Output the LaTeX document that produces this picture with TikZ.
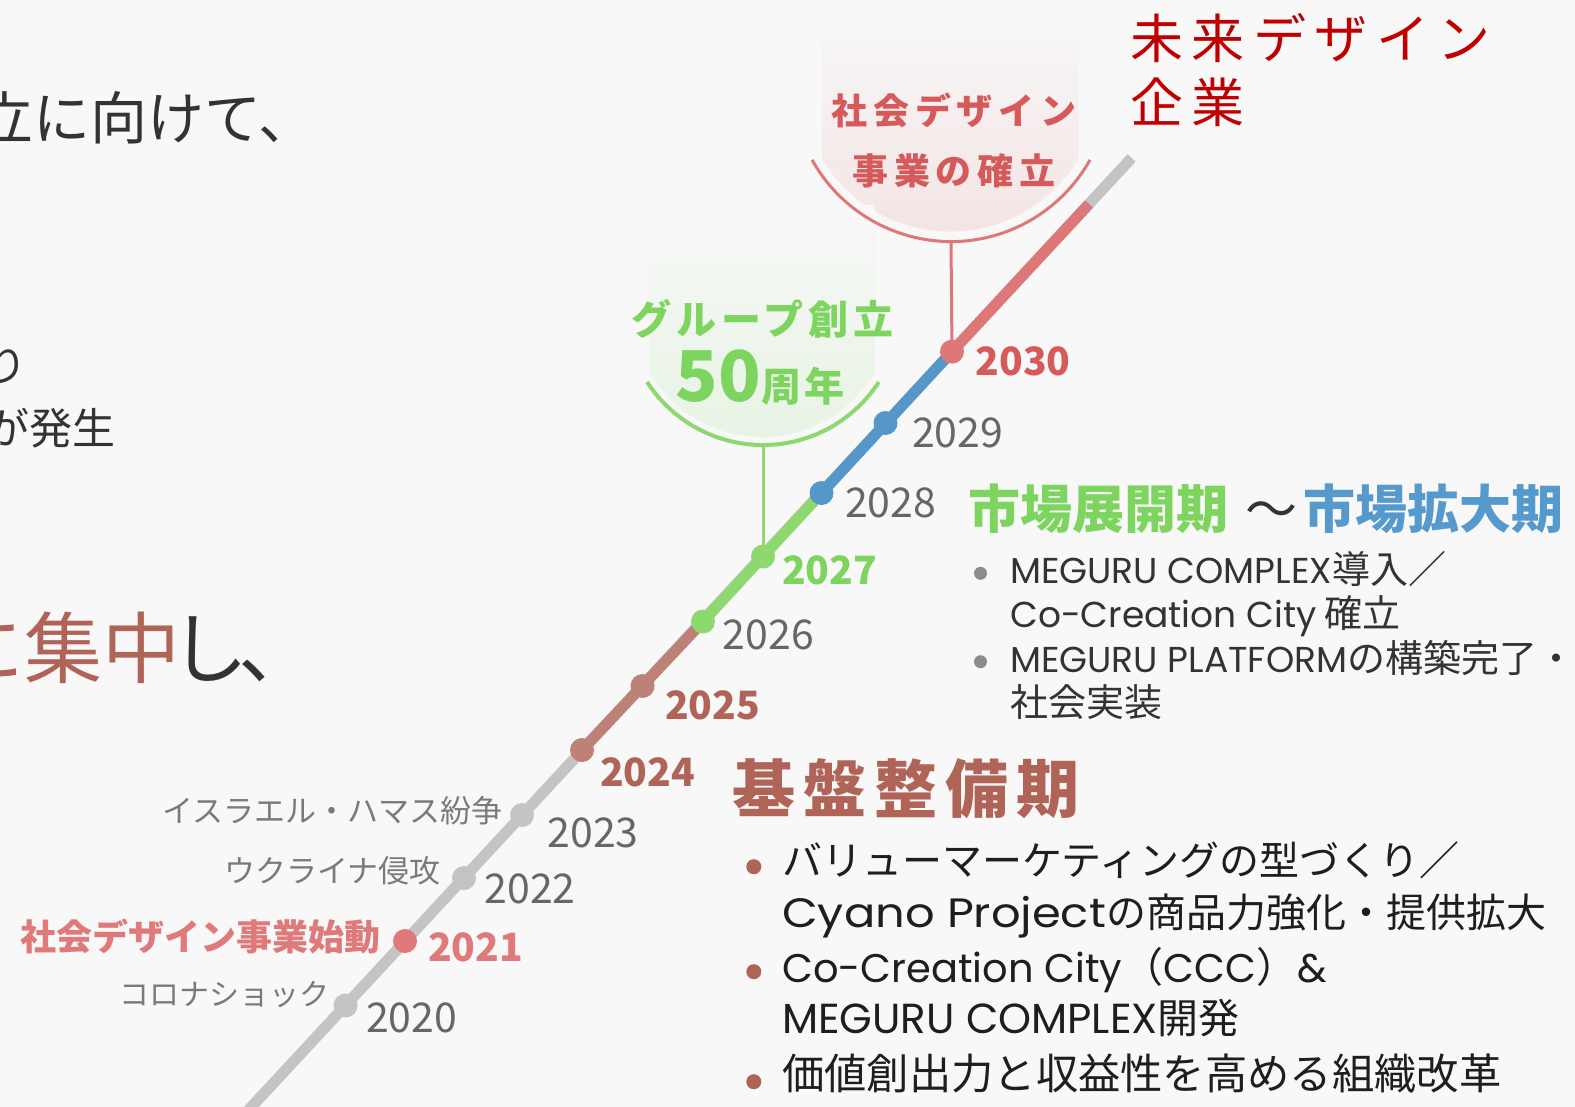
\documentclass[tikz,border=0pt]{standalone}
\usepackage{fontspec}
\setmainfont{Noto Sans CJK JP}
\newfontfamily\lat{Poppins}
\usepackage{tikz}
\usetikzlibrary{positioning}
\definecolor{bg}{HTML}{F8F8F8}
\definecolor{railgray}{HTML}{C4C4C4}
\definecolor{brownseg}{HTML}{BE8177}
\definecolor{greenseg}{HTML}{8DD86F}
\definecolor{blueseg}{HTML}{5597C9}
\definecolor{redseg}{HTML}{DE7878}
\definecolor{browntxt}{HTML}{B06458}
\definecolor{greentxt}{HTML}{7DD45F}
\definecolor{bluetxt}{HTML}{5599CD}
\definecolor{redtxt}{HTML}{D65A5A}
\definecolor{pinktxt}{HTML}{E07A7A}
\definecolor{darkred}{HTML}{C00000}
\definecolor{yeargray}{HTML}{666666}
\definecolor{eventgray}{HTML}{7A7A7A}
\definecolor{ink}{HTML}{333333}
\definecolor{blackink}{HTML}{1E1E1E}
\definecolor{redcupfill}{HTML}{F3E3E3}
\definecolor{greencupfill}{HTML}{E6F3E2}
\newcommand{\fsz}[1]{\fontsize{#1}{#1}\selectfont}
\tikzstyle{rail} = [line width=11pt]
\tikzstyle{yeardot} = [circle, inner sep=0pt, minimum size=24pt]
\tikzstyle{year} = [anchor=west, inner sep=0pt, text=yeargray, font=\fsz{41}]
\tikzstyle{keyyear} = [anchor=west, inner sep=0pt, font=\fsz{39}\bfseries]
\tikzstyle{event} = [anchor=east, inner sep=0pt, text=eventgray, font=\fsz{30}]
\tikzstyle{bullet} = [circle, inner sep=0pt]
\tikzstyle{item} = [anchor=base west, inner sep=0pt]
\tikzstyle{lead} = [anchor=west, inner sep=0pt, text=ink]
\begin{document}
\begin{tikzpicture}[x=1pt, y=-1pt]
        \useasboundingbox (0,0) rectangle (1575,1107);
        \fill[bg] (0,0) rectangle (1575,1107);
        % cups
        \shade[top color=bg, bottom color=redcupfill] (822,0) -- (822,158.4) arc[start angle=149.4, end angle=30.6, radius=149] -- (1079,0) -- cycle;
        \shade[top color=bg, bottom color=greencupfill] (649,205) -- (649,371.3) arc[start angle=150.4, end angle=29.6, radius=130] -- (875,205) -- cycle;
        \draw[redseg, line width=3pt] (812.1,159.9) arc[start angle=150.9, end angle=29.1, radius=159];
        \draw[greenseg, line width=4pt] (647.1,382) arc[start angle=147.1, end angle=32.9, radius=138];
        \coordinate (redcupbase) at (951,241.6);
        \coordinate (greencupbase) at (763,445);
        % timeline
        \coordinate (railfoot) at (243.9,1115);
        \coordinate (railtop) at (1131.6,158);
        \coordinate (railred) at (1089,204);
        \coordinate (y2020) at (345.5,1005.5);
        \coordinate (y2021) at (405,941);
        \coordinate (y2022) at (464,878);
        \coordinate (y2023) at (522,815);
        \coordinate (y2024) at (582,750);
        \coordinate (y2025) at (642.5,686);
        \coordinate (y2026) at (703,621.5);
        \coordinate (y2027) at (763,556.5);
        \coordinate (y2028) at (821.5,493);
        \coordinate (y2029) at (885.5,423);
        \coordinate (y2030) at (952,351.6);
        \draw[redseg, line width=3pt] (redcupbase) -- (y2030);
        \draw[greenseg, line width=3pt] (greencupbase) -- (y2027);
        \draw[rail, railgray] (railfoot) -- (railtop);
        \draw[rail, brownseg] (y2024) -- (y2026);
        \draw[rail, greenseg] (y2026) -- (y2028);
        \draw[rail, blueseg] (y2028) -- (y2030);
        \draw[rail, redseg] (y2030) -- (railred);
        \node[yeardot, fill=railgray] (d2020) at (y2020) {};
        \node[yeardot, fill=pinktxt] (d2021) at (y2021) {};
        \node[yeardot, fill=railgray] (d2022) at (y2022) {};
        \node[yeardot, fill=railgray] (d2023) at (y2023) {};
        \node[yeardot, fill=brownseg] (d2024) at (y2024) {};
        \node[yeardot, fill=brownseg] (d2025) at (y2025) {};
        \node[yeardot, fill=greenseg] (d2026) at (y2026) {};
        \node[yeardot, fill=greenseg] (d2027) at (y2027) {};
        \node[yeardot, fill=blueseg] (d2028) at (y2028) {};
        \node[yeardot, fill=blueseg] (d2029) at (y2029) {};
        \node[yeardot, fill=redseg] (d2030) at (y2030) {};
        % years
        \node[year] (l2020) at (366,1018.3) {2020};
        \node[keyyear, text=pinktxt] (l2021) at (428,947.5) {2021};
        \node[year] (l2022) at (484.4,889.2) {2022};
        \node[year] (l2023) at (547.3,832.5) {2023};
        \node[keyyear, text=browntxt] (l2024) at (600,772.5) {2024};
        \node[keyyear, text=browntxt] (l2025) at (665,705) {2025};
        \node[year] (l2026) at (722.7,634.7) {2026};
        \node[keyyear, text=greentxt] (l2027) at (782,570) {2027};
        \node[year] (l2028) at (845,502.5) {2028};
        \node[year] (l2029) at (912,433) {2029};
        \node[keyyear, text=redtxt] (l2030) at (975.5,361.7) {2030};
        % events
        \node[event] (e2020) at (330,995) {コロナショック};
        \node[event, text=pinktxt, font=\fsz{36}\bfseries] (e2021) at (381,936.7) {社会デザイン事業始動};
        \node[event, font=\fsz{31}] (e2022) at (441,870.8) {ウクライナ侵攻};
        \node[event, font=\fsz{31}] (e2023) at (503,810.8) {イスラエル・ハマス紛争};
        % cups text
        \node[inner sep=0pt, text=redtxt, font=\fsz{36}\bfseries\addfontfeatures{LetterSpace=16}] (redcup1) at (954,110.8) {社会デザイン};
        \node[inner sep=0pt, text=redtxt, font=\fsz{36}\bfseries\addfontfeatures{LetterSpace=16}] (redcup2) at (954,170.8) {事業の確立};
        \node[inner sep=0pt, text=greentxt, font=\fsz{40}\bfseries\addfontfeatures{LetterSpace=12}] (greencup1) at (762.4,319) {グループ創立};
        \node[anchor=base, inner sep=0pt, text=greentxt, font=\fsz{40}\bfseries] (greencup2) at (760,402) {{\fsz{70}50}{\addfontfeatures{LetterSpace=8}周年}};
        % goal
        \node[lead, text=darkred, font=\fsz{53}\addfontfeatures{LetterSpace=16}] (goal1) at (1130,38.3) {未来デザイン};
        \node[lead, text=darkred, font=\fsz{53}\addfontfeatures{LetterSpace=16}] (goal2) at (1130,102.3) {企業};
        % left text
        \node[lead, font=\fsz{57}] (left1) at (-23.5,118) {立に向けて、};
        \node[lead, anchor=east, font=\fsz{43}] (left2) at (28,366) {り};
        \node[lead, anchor=east, font=\fsz{43}] (left3) at (116,428) {が発生};
        \node[lead, font=\fsz{78}] (left4) at (-53.5,648) {{\color{browntxt}に集中}\hspace{-10pt}し\hspace{-10pt}、};
        % market phase
        \node[lead, font=\fsz{52}] (market) at (968,509) {{\color{greentxt}\bfseries 市場展開期}\hspace{17pt}{\color{ink}～}\hspace{6pt}{\color{bluetxt}\bfseries 市場拡大期}};
        \node[bullet, fill=gray!90, minimum size=13pt] (gb1) at (980.5,573.3) {};
        \node[bullet, fill=gray!90, minimum size=13pt] (gb2) at (980.5,661.7) {};
        \node[item, text=ink, font=\fsz{38}] (g1) at (1010,583) {{\lat\fsz{36}MEGURU COMPLEX}導入／};
        \node[item, text=ink, font=\fsz{38}] (g2) at (1010,627) {{\lat\fsz{36}Co-Creation City} 確立};
        \node[item, text=ink, font=\fsz{38}] (g3) at (1010,672) {{\lat\fsz{36}MEGURU PLATFORM}の構築完了・};
        \node[item, text=ink, font=\fsz{38}] (g4) at (1010,716) {社会実装};
        % foundation phase
        \node[lead, text=browntxt, font=\fsz{63}\bfseries\addfontfeatures{LetterSpace=13}] (base) at (732,789) {基盤整備期};
        \node[bullet, fill=browntxt, minimum size=15pt] (bb1) at (753.8,866.7) {};
        \node[bullet, fill=browntxt, minimum size=15pt] (bb2) at (753.8,971.7) {};
        \node[bullet, fill=browntxt, minimum size=15pt] (bb3) at (753.8,1081.7) {};
        \node[item, text=blackink, font=\fsz{40}] (b1) at (782,875) {バリューマーケティングの型づくり／};
        \node[item, text=blackink, font=\fsz{40}] (b2) at (782,927) {{\lat\fsz{41}\addfontfeatures{FakeStretch=1.13}Cyano Project}の商品力強化・提供拡大};
        \node[item, text=blackink, font=\fsz{41}] (b3) at (782,982) {{\lat\fsz{40}Co-Creation City}（{\lat\fsz{40}CCC}）{\lat\fsz{40}\&}};
        \node[item, text=blackink, font=\fsz{41}] (b4) at (782,1033) {{\lat\fsz{42}MEGURU COMPLEX}開発};
        \node[item, text=blackink, font=\fsz{42.3}] (b5) at (782,1089) {価値創出力と収益性を高める組織改革};
\end{tikzpicture}
\end{document}
